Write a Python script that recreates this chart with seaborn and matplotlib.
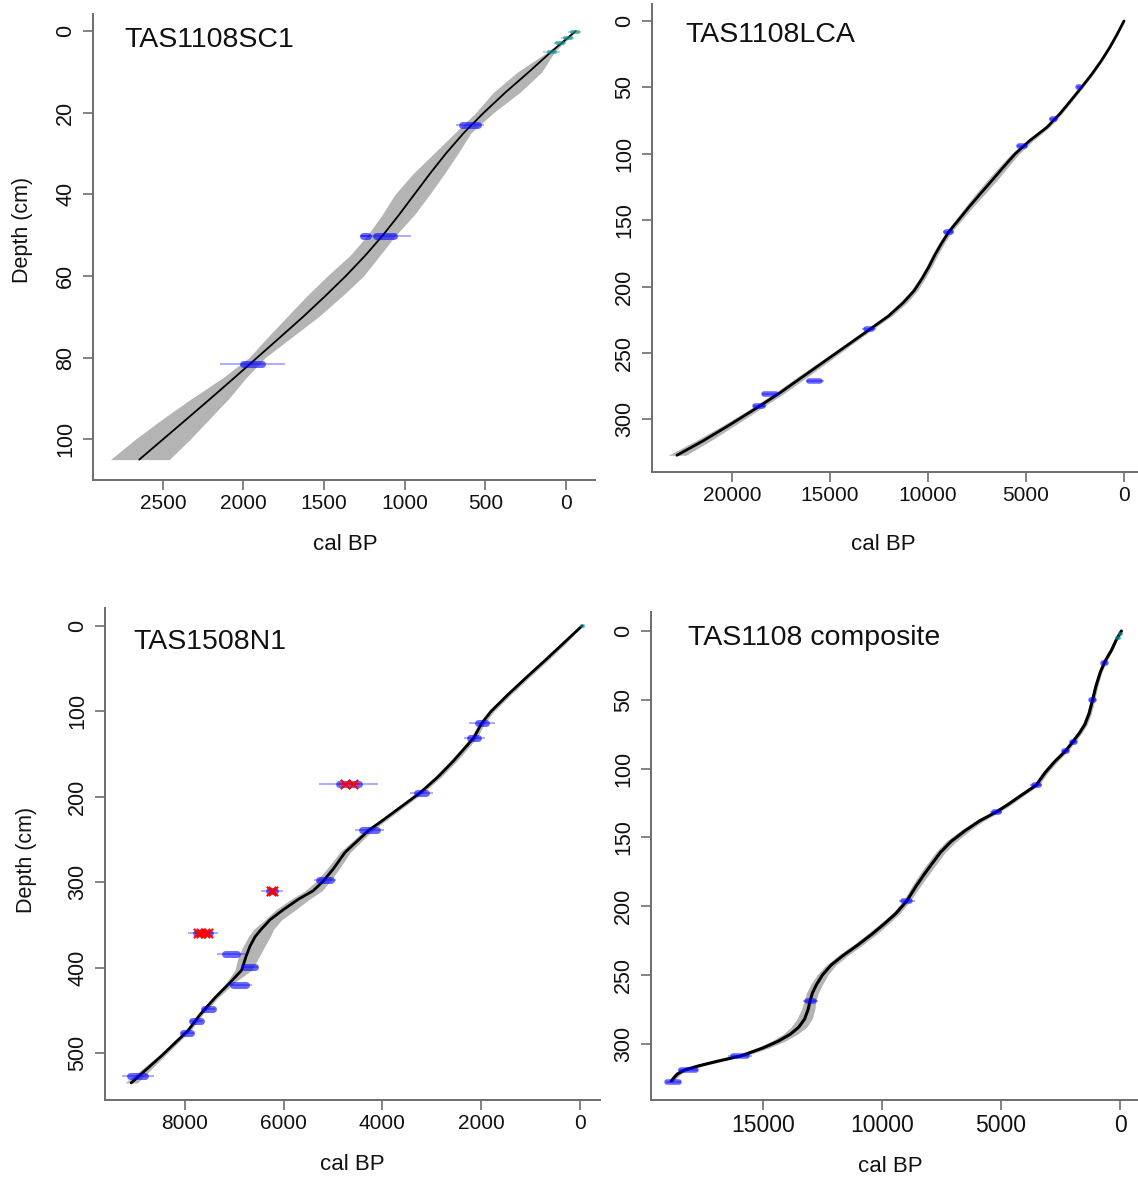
import matplotlib
matplotlib.use("Agg")
import matplotlib.pyplot as plt
import seaborn as sns
import numpy as np

# ---------------- data ----------------
# Panel 1: TAS1108SC1
sc1_depth = [0, 5, 10, 15, 20, 25, 30, 35, 40, 45, 50, 55, 60, 65, 70, 75, 80, 85, 90, 95, 100, 105]
sc1_age   = [-60, 90, 230, 375, 510, 635, 745, 845, 940, 1035, 1135, 1245, 1365, 1495, 1630, 1772, 1915, 2058, 2203, 2350, 2498, 2646]
sc1_min   = [-65, 70, 150, 285, 450, 590, 670, 755, 845, 940, 1055, 1155, 1255, 1390, 1535, 1700, 1865, 1985, 2090, 2210, 2330, 2460]
sc1_max   = [-55, 110, 300, 450, 560, 690, 820, 950, 1060, 1140, 1230, 1340, 1480, 1610, 1730, 1850, 1965, 2130, 2320, 2500, 2670, 2825]
sc1_date_depth = [0.3, 1.7, 3.0, 5.0, 23.0, 50.2, 50.2, 81.5]
sc1_date_age   = [-55, -12, 37, 89, 595, 1243, 1120, 1944]
sc1_date_inner = [18, 18, 18, 18, 47, 15, 55, 59]
sc1_date_outer = [40, 40, 40, 55, 85, 30, 160, 200]
sc1_date_kind  = ["teal", "teal", "teal", "teal", "blue", "blue", "blue", "blue"]

# Panel 2: TAS1108LCA
lca_depth = [0, 10, 20, 30, 40, 50, 60, 70, 80, 90, 100, 110, 120, 130, 140, 150, 159, 168, 176, 185, 194,
             203, 212, 222, 232, 244, 256, 268, 280, 292, 304, 316, 327]
lca_age   = [0, 350, 730, 1160, 1640, 2170, 2720, 3280, 3930, 4800, 5550, 6150, 6730, 7320, 7900, 8450, 8945,
             9330, 9640, 9950, 10300, 10700, 11250, 12000, 12950, 14100, 15250, 16400, 17550, 18800, 20100, 21450, 22800]
lca_half  = [0, 30, 45, 60, 75, 80, 90, 110, 130, 170, 200, 230, 250, 240, 200, 170, 150, 150, 150, 150, 150,
             170, 190, 170, 150, 180, 220, 250, 250, 260, 300, 380, 450]
lca_date_depth = [50, 74, 94, 159, 232, 271, 281, 290]
lca_date_age   = [2300, 3600, 5200, 8950, 13000, 15780, 18050, 18600]
lca_date_inner = [60, 80, 150, 150, 150, 300, 300, 200]
lca_date_outer = [120, 200, 250, 300, 350, 460, 420, 330]
lca_date_kind  = ["blue"] * 8

# Panel 3: TAS1508N1
n1_depth = [0, 20, 40, 60, 80, 100, 114, 131, 158, 177, 195, 210, 230, 239, 265, 285, 299, 310, 320, 332,
            344, 355, 364, 375, 387, 403, 417, 435, 455, 473, 503, 535]
n1_age   = [-40, 330, 700, 1080, 1450, 1800, 1990, 2150, 2560, 2880, 3230, 3580, 4050, 4270, 4754, 5000, 5200,
            5400, 5700, 6000, 6274, 6450, 6578, 6680, 6760, 6848, 7073, 7382, 7691, 7923, 8464, 9083]
n1_min   = [-50, 280, 640, 1020, 1390, 1740, 1930, 2085, 2490, 2810, 3170, 3515, 3980, 4190, 4650, 4880, 5060,
            5220, 5480, 5750, 6038, 6200, 6274, 6380, 6491, 6645, 6980, 7320, 7640, 7870, 8400, 8960]
n1_max   = [-30, 380, 760, 1140, 1510, 1860, 2050, 2215, 2630, 2950, 3290, 3645, 4120, 4360, 4860, 5130, 5340,
            5560, 5850, 6150, 6376, 6600, 6714, 6820, 6916, 6983, 7150, 7440, 7740, 7980, 8530, 9210]
n1_date_depth = [0, 114, 131, 195, 239, 298, 384, 399, 420, 449, 462, 476, 527, 185.5, 310, 359, 359]
n1_date_age   = [-60, 1990, 2140, 3210, 4260, 5160, 7060, 6690, 6900, 7520, 7760, 7950, 8950, 4680, 6240, 7700, 7560]
n1_date_inner = [10, 80, 80, 90, 150, 130, 120, 110, 130, 90, 90, 80, 150, 200, 60, 70, 70]
n1_date_outer = [20, 260, 210, 232, 290, 220, 286, 180, 270, 130, 130, 130, 330, 594, 220, 240, 240]
n1_date_kind  = ["teal"] + ["blue"] * 12 + ["red"] * 4

# Panel 4: TAS1108 composite
cmp_depth = [0, 6, 14, 22, 30, 40, 50, 60, 68, 74, 80, 87, 95, 103, 112, 120, 126, 131.5, 138, 145, 153, 161,
             168, 175, 185, 196, 205, 212, 220, 228, 236, 243, 250, 257, 263, 269, 275, 282, 288, 293, 298, 303,
             308.6, 313, 316, 319, 322, 325, 327]
cmp_age   = [-60, 144, 360, 630, 830, 1010, 1150, 1300, 1480, 1700, 1960, 2280, 2750, 3150, 3520, 4200, 4700,
             5200, 5900, 6500, 7100, 7550, 7850, 8150, 8550, 8950, 9400, 9850, 10400, 11000, 11650, 12150, 12500,
             12750, 12920, 13020, 13100, 13250, 13500, 13850, 14350, 15000, 15900, 17000, 17700, 18300, 18600,
             18750, 18850]
cmp_half  = [0, 30, 50, 60, 70, 80, 90, 100, 100, 100, 100, 110, 120, 120, 120, 130, 140, 150, 170, 200, 220,
             200, 200, 200, 180, 150, 160, 180, 200, 200, 200, 210, 230, 250, 250, 250, 280, 320, 330, 300, 280,
             250, 200, 200, 200, 180, 150, 120, 100]
cmp_date_depth = [2, 5, 23, 50, 80.4, 87, 112, 131.5, 196, 268.5, 308.6, 319, 328]
cmp_date_age   = [-30, 90, 650, 1150, 1960, 2280, 3520, 5200, 8950, 13000, 15960, 18130, 18760]
cmp_date_inner = [30, 40, 50, 60, 60, 60, 100, 100, 150, 150, 300, 300, 250]
cmp_date_outer = [60, 80, 120, 150, 150, 150, 250, 250, 350, 300, 510, 420, 320]
cmp_date_kind  = ["teal", "teal"] + ["blue"] * 11

titles = ["TAS1108SC1", "TAS1108LCA", "TAS1508N1", "TAS1108 composite"]
x_ticks = [[2500, 2000, 1500, 1000, 500, 0],
           [20000, 15000, 10000, 5000, 0],
           [8000, 6000, 4000, 2000, 0],
           [15000, 10000, 5000, 0]]
y_ticks = [[0, 20, 40, 60, 80, 100],
           [0, 50, 100, 150, 200, 250, 300],
           [0, 100, 200, 300, 400, 500],
           [0, 50, 100, 150, 200, 250, 300]]

# ---------------- style ----------------
sns.set_theme(style="ticks")
plt.rcParams['font.family'] = ['Liberation Sans', 'DejaVu Sans']

W, H = 1138, 1180
fig = plt.figure(figsize=(W / 100, H / 100), dpi=100)
fig.patch.set_facecolor("white")

def px_axes(left, right, top, bottom):
    return fig.add_axes([left / W, 1 - bottom / H, (right - left) / W, (bottom - top) / H])

axes = [px_axes(93, 595, 14, 480),
        px_axes(652, 1138, 4, 472),
        px_axes(105, 600, 608, 1100),
        px_axes(651, 1138, 612, 1100)]
xlims = [(2933, -180), (24072, -714), (9614, -405), (19700, -756)]
ylims = [(110, -4.2), (339.6, -12.8), (555, -21), (340.8, -13.8)]
title_pos = [(124, 40), (685, 35), (133, 642), (688, 638)]
xlabel_pos = [(345, 545), (883, 545), (352, 1165), (890, 1167)]
ylabel_pos = [(22, 230), None, (27, 860), None]

GREY = "#b4b4b4"
TEAL = (0.05, 0.55, 0.55)
BLUE = (0.0, 0.0, 1.0)


def draw_dates(ax, dd, aa, inner, outer, kinds, thick=5):
    for d, a, wi, wo, k in zip(dd, aa, inner, outer, kinds):
        c = TEAL if k == "teal" else BLUE
        t = 3 if k == "teal" else thick
        ax.hlines(d, a - wo, a + wo, color=c, alpha=0.35, lw=1.3, zorder=4)
        l2 = ax.hlines(d, a - wi, a + wi, color=c, alpha=0.6, lw=t, zorder=5)
        l2.set_capstyle("round")
        if k == "red":
            ax.scatter([a - wi * 0.4, a + wi * 0.4], [d, d], marker="x", color="red",
                       s=45, linewidths=1.4, zorder=6)
            ax.hlines(d, a - wi, a + wi, color="red", alpha=0.8, lw=1.5, zorder=6)


panels = [
    (sc1_depth, sc1_age, sc1_min, sc1_max,
     (sc1_date_depth, sc1_date_age, sc1_date_inner, sc1_date_outer, sc1_date_kind), 1.3),
    (lca_depth, lca_age, [a - h for a, h in zip(lca_age, lca_half)], [a + h for a, h in zip(lca_age, lca_half)],
     (lca_date_depth, lca_date_age, lca_date_inner, lca_date_outer, lca_date_kind), 2.0),
    (n1_depth, n1_age, n1_min, n1_max,
     (n1_date_depth, n1_date_age, n1_date_inner, n1_date_outer, n1_date_kind), 2.0),
    (cmp_depth, cmp_age, [a - h for a, h in zip(cmp_age, cmp_half)], [a + h for a, h in zip(cmp_age, cmp_half)],
     (cmp_date_depth, cmp_date_age, cmp_date_inner, cmp_date_outer, cmp_date_kind), 2.2),
]

for i, (ax, (dep, age, amin, amax, dates, lw)) in enumerate(zip(axes, panels)):
    ax.set_facecolor("white")
    ax.fill_betweenx(dep, amin, amax, color=GREY, lw=0, zorder=2)
    sns.lineplot(x=age, y=dep, sort=False, estimator=None, color="black", lw=lw, ax=ax, zorder=3)
    draw_dates(ax, *dates, thick=5 if i in (0, 2) else 4)

    ax.set_xlim(*xlims[i])
    ax.set_ylim(*ylims[i])
    ax.set_xticks(x_ticks[i])
    ax.set_yticks(y_ticks[i])
    ax.set_xticklabels([str(v) for v in x_ticks[i]], fontsize=15 if i != 3 else 16.5, color="#111111")
    ax.set_yticklabels([str(v) for v in y_ticks[i]], fontsize=15.5, color="#111111",
                       rotation=90, va="center")
    for s in ("top", "right"):
        ax.spines[s].set_visible(False)
    for s in ("left", "bottom"):
        ax.spines[s].set_color("#6e6e6e")
        ax.spines[s].set_linewidth(1.4)
    ax.tick_params(axis="both", direction="out", length=7, width=1.2, color="#6e6e6e")
    ax.tick_params(axis="x", pad=3)
    ax.tick_params(axis="y", pad=5)

    ax.set_xlabel("cal BP", fontsize=16, color="#111111")
    lx, ly = xlabel_pos[i]
    pos = ax.get_position()
    ax.xaxis.set_label_coords((lx - pos.x0 * W) / (pos.width * W),
                              ((1 - ly / H) - pos.y0) / pos.height)
    ax.xaxis.label.set_va("center")
    if ylabel_pos[i] is not None:
        ax.set_ylabel("Depth (cm)", fontsize=15.5, color="#111111")
        yx, yy = ylabel_pos[i]
        ax.yaxis.set_label_coords((yx - pos.x0 * W) / (pos.width * W),
                                  ((1 - yy / H) - pos.y0) / pos.height)
        ax.yaxis.label.set_va("center")
    else:
        ax.set_ylabel("")

    tx, ty = title_pos[i]
    fig.text(tx / W, 1 - ty / H, titles[i], fontsize=20.5, ha="left", va="center", color="#111111")

fig.savefig("out.png", dpi=100, facecolor="white")
